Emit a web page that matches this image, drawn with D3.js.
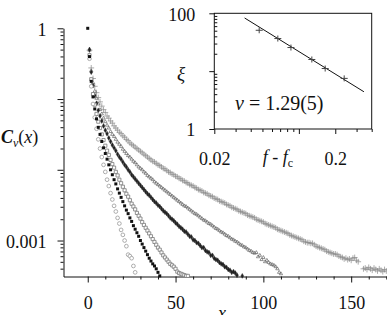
<!DOCTYPE html>
<html>
<head>
<meta charset="utf-8">
<script src="https://cdn.jsdelivr.net/npm/d3@7"></script>
<style>
body { margin: 0; background: #fff; }
</style>
</head>
<body>
<svg id="chart" width="387" height="315"></svg>
<script>
// values: decades below 1, i.e. C = 10^-value, index = x
var circlesDec = [null, 0.43, 0.82, 1.07, 1.26, 1.42, 1.57, 1.70, 1.82, 1.93,
	2.03, 2.14, 2.23, 2.33, 2.42, 2.51, 2.59, 2.68, 2.76, 2.85,
	2.92, 3.00, 3.08, 3.20, 3.22, 3.25, 3.36, 3.45];
var squaresDec = [0, 0.40, 0.75, 0.97, 1.14, 1.28, 1.40, 1.50, 1.60, 1.69,
	1.77, 1.85, 1.93, 2.00, 2.07, 2.14, 2.20, 2.27, 2.33, 2.39,
	2.45, 2.51, 2.57, 2.62, 2.68, 2.73, 2.79, 2.84, 2.89, 2.94,
	3.00, 3.05, 3.10, 3.15, 3.20, 3.25, 3.29, 3.33, 3.36, 3.40,
	3.45, 3.50];
var openSquaresDec = [null, 0.38, 0.72, 0.93, 1.08, 1.21, 1.32, 1.41, 1.50, 1.58,
	1.66, 1.73, 1.79, 1.86, 1.92, 1.97, 2.03, 2.08, 2.14, 2.19,
	2.24, 2.29, 2.34, 2.38, 2.43, 2.48, 2.52, 2.56, 2.61, 2.65,
	2.69, 2.74, 2.78, 2.82, 2.86, 2.90, 2.94, 2.98, 3.02, 3.06,
	3.10, 3.13, 3.17, 3.21, 3.24, 3.27, 3.30, 3.33, 3.35, 3.37,
	3.40, 3.44, 3.46, 3.47, 3.48, 3.49, 3.50, 3.50];
var dotsDec = [null, 0.30, 0.62, 0.81, 0.95, 1.06, 1.16, 1.24, 1.31, 1.38,
	1.44, 1.49, 1.55, 1.60, 1.65, 1.69, 1.73, 1.78, 1.82, 1.85,
	1.89, 1.93, 1.96, 2.00, 2.03, 2.07, 2.10, 2.13, 2.16, 2.19,
	2.22, 2.25, 2.28, 2.31, 2.34, 2.36, 2.39, 2.42, 2.45, 2.47,
	2.50, 2.52, 2.55, 2.58, 2.60, 2.62, 2.65, 2.68, 2.70, 2.72,
	2.75, 2.77, 2.80, 2.82, 2.84, 2.87, 2.88, 2.91, 2.94, 2.95,
	2.99, 3.00, 3.03, 3.04, 3.07, 3.10, 3.10, 3.14, 3.16, 3.17,
	3.21, 3.21, 3.25, 3.27, 3.28, 3.31, 3.33, 3.34, 3.37, 3.38,
	3.41, 3.42, 3.45, 3.44, 3.46, 3.49, null, null, 3.50];
var trianglesDec = [null, 0.31, 0.60, 0.77, 0.89, 0.99, 1.07, 1.15, 1.21, 1.27,
	1.32, 1.37, 1.41, 1.46, 1.50, 1.53, 1.57, 1.61, 1.64, 1.67,
	1.71, 1.74, 1.77, 1.80, 1.82, 1.85, 1.88, 1.90, 1.93, 1.96,
	1.98, 2.00, 2.03, 2.05, 2.08, 2.10, 2.12, 2.14, 2.17, 2.19,
	2.21, 2.23, 2.25, 2.27, 2.29, 2.31, 2.33, 2.35, 2.37, 2.39,
	2.41, 2.43, 2.45, 2.47, 2.49, 2.51, 2.52, 2.54, 2.56, 2.58,
	2.60, 2.62, 2.63, 2.65, 2.67, 2.69, 2.71, 2.72, 2.74, 2.76,
	2.77, 2.79, 2.81, 2.83, 2.84, 2.86, 2.88, 2.89, 2.91, 2.93,
	2.94, 2.96, 2.98, 2.99, 3.01, 3.02, 3.04, 3.06, 3.07, 3.09,
	3.10, 3.12, 3.14, 3.15, 3.17, 3.18, 3.17, 3.23, 3.21, 3.27,
	3.24, 3.30, 3.28, 3.31, 3.33, 3.34, 3.35, 3.37, 3.40, 3.45,
	3.47];
var plusDec = [null, 0.31, 0.56, 0.71, 0.82, 0.91, 0.98, 1.04, 1.10, 1.15,
	1.19, 1.24, 1.27, 1.31, 1.34, 1.38, 1.41, 1.44, 1.47, 1.49,
	1.52, 1.54, 1.57, 1.59, 1.62, 1.64, 1.66, 1.68, 1.70, 1.72,
	1.74, 1.76, 1.78, 1.80, 1.82, 1.84, 1.86, 1.88, 1.89, 1.91,
	1.93, 1.94, 1.96, 1.98, 1.99, 2.01, 2.03, 2.04, 2.06, 2.07,
	2.09, 2.10, 2.12, 2.13, 2.15, 2.16, 2.18, 2.19, 2.21, 2.22,
	2.23, 2.25, 2.26, 2.28, 2.29, 2.30, 2.32, 2.33, 2.34, 2.36,
	2.37, 2.38, 2.40, 2.41, 2.42, 2.44, 2.45, 2.46, 2.47, 2.49,
	2.50, 2.51, 2.53, 2.54, 2.55, 2.56, 2.58, 2.59, 2.60, 2.61,
	2.62, 2.64, 2.65, 2.66, 2.67, 2.68, 2.70, 2.71, 2.72, 2.73,
	2.74, 2.76, 2.77, 2.78, 2.79, 2.80, 2.81, 2.82, 2.84, 2.85,
	2.86, 2.87, 2.88, 2.89, 2.90, 2.92, 2.93, 2.94, 2.95, 2.96,
	2.97, 2.98, 2.99, 3.01, 3.02, 3.03, 3.03, 3.04, 3.04, 3.06,
	3.08, 3.09, 3.10, 3.11, 3.12, 3.13, 3.15, 3.16, 3.17, 3.18,
	3.19, 3.19, 3.20, 3.22, 3.23, 3.24, 3.26, 3.25, 3.27, 3.26,
	3.28, 3.25, 3.24, 3.28, 3.30, null, null, 3.40, 3.39, 3.41,
	3.38, 3.40, 3.42, 3.39, 3.41, 3.43, 3.40, 3.42, 3.44, 3.41,
	3.43];

var xTicksMajor = [0, 50, 100, 150];
var yTicksMajor = [1, 0.1, 0.01, 0.001];
var yTickLabels = {"1": "1", "0.001": "0.001"};

// inset: correlation length vs distance to threshold
var fDist = [0.047, 0.067, 0.086, 0.128, 0.165, 0.237];
var xiVals = [50.9, 36.6, 25.6, 15.9, 11.1, 7.5];
var fitF = [0.0356, 0.345];
var fitXi = [83, 4.4];
var insetXLabels = [0.02, 0.2];
var insetYLabels = [1, 100];

var FONT = "'Liberation Serif', 'DejaVu Serif', 'Times New Roman', serif";

var svg = d3.select("#chart");
svg.append("rect").attr("width", 387).attr("height", 315).attr("fill", "white");

var x = d3.scaleLinear().domain([-13.8, 170.4]).range([63.5, 387]);
var y = d3.scaleLog().domain([1, 3.1e-4]).range([28.3, 276.5]);

// axes
var minorX = d3.range(0, 171, 10).filter(v => v % 50 != 0);
svg.append("g").attr("transform", "translate(0,276.5)")
	.call(d3.axisBottom(x).tickValues(minorX).tickSize(3).tickSizeOuter(0).tickFormat(""))
	.call(g => g.select(".domain").remove());
var gx = svg.append("g").attr("transform", "translate(0,276.5)")
	.call(d3.axisBottom(x).tickValues(xTicksMajor).tickSize(6).tickSizeOuter(0).tickPadding(13.5));
gx.selectAll("text").attr("font-size", 18);

var minorY = [];
[1, 0.1, 0.01, 0.001, 0.0001].forEach(function(dec) {
	for (var m = 2; m <= 9; m++) {
		var v = dec * m / 10;
		if (v >= 3.1e-4 && v < 1) minorY.push(v);
	}
});
svg.append("g").attr("transform", "translate(63.5,0)")
	.call(d3.axisLeft(y).tickValues(minorY).tickSize(3).tickSizeOuter(0).tickFormat(""))
	.call(g => g.select(".domain").remove());
var gy = svg.append("g").attr("transform", "translate(63.5,0)")
	.call(d3.axisLeft(y).tickValues(yTicksMajor).tickSize(6).tickSizeOuter(0).tickPadding(11)
		.tickFormat(d => yTickLabels[String(d)] || ""));
gy.selectAll("text").attr("font-size", 18).attr("dy", "0.38em");
svg.selectAll(".domain").attr("stroke", "#111");
svg.selectAll(".tick line").attr("stroke", "#111");

// series
function sym(type, size) {
	return d3.symbol().type(type).size(size)();
}
var series = [
	{vals: plusDec, path: sym(d3.symbolPlus || d3.symbolCross, 13), fill: "none", stroke: "#888", sw: 0.7},
	{vals: trianglesDec, path: sym(d3.symbolTriangle2 || d3.symbolTriangle, 8), fill: "none", stroke: "#666", sw: 0.7},
	{vals: dotsDec, path: sym(d3.symbolDiamond, 7), fill: "#222", stroke: "#222", sw: 0.4},
	{vals: openSquaresDec, path: sym(d3.symbolSquare, 10), fill: "white", stroke: "#777", sw: 0.8},
	{vals: circlesDec, path: sym(d3.symbolCircle, 11), fill: "white", stroke: "#999", sw: 0.8},
	{vals: squaresDec, path: sym(d3.symbolSquare, 9), fill: "#111", stroke: "none", sw: 0}
];
series.forEach(function(s, k) {
	var pts = s.vals.map((d, i) => ({x: i, c: d == null ? null : Math.pow(10, -d)}))
		.filter(p => p.c != null);
	svg.append("g").attr("class", "series" + k)
		.selectAll("path").data(pts).enter().append("path")
		.attr("transform", p => "translate(" + x(p.x) + "," + y(p.c) + ")")
		.attr("d", s.path)
		.attr("fill", s.fill)
		.attr("stroke", s.stroke)
		.attr("stroke-width", s.sw);
});

// axis titles
var cLabel = svg.append("text").attr("x", 1).attr("y", 143).attr("font-size", 18);
cLabel.append("tspan").attr("font-style", "italic").attr("font-weight", "bold").text("C");
cLabel.append("tspan").attr("font-style", "italic").attr("font-size", 12).attr("dy", 4).text("v");
cLabel.append("tspan").attr("dy", -4).text("(");
cLabel.append("tspan").attr("font-style", "italic").text("x");
cLabel.append("tspan").text(")");
svg.append("text").attr("x", 222).attr("y", 319).attr("text-anchor", "middle")
	.attr("font-size", 18).attr("font-style", "italic").text("x");

// inset
var ix = d3.scaleLog().domain([0.02, 0.4]).range([214.3, 371.7]);
var iy = d3.scaleLog().domain([1, 100]).range([129, 13.3]);
var inset = svg.append("g");
inset.append("rect").attr("x", 214.3).attr("y", 13.3).attr("width", 157.4).attr("height", 115.7)
	.attr("fill", "white").attr("stroke", "#111").attr("stroke-width", 1);

var ixMinor = [0.03, 0.04, 0.05, 0.06, 0.07, 0.08, 0.09, 0.3, 0.4];
inset.append("g").attr("transform", "translate(0,129)")
	.call(d3.axisBottom(ix).tickValues(ixMinor).tickSize(3).tickSizeOuter(0).tickFormat(""))
	.call(g => g.select(".domain").remove());
var gix = inset.append("g").attr("transform", "translate(0,129)")
	.call(d3.axisBottom(ix).tickValues([0.02, 0.1, 0.2]).tickSize(5).tickSizeOuter(0).tickPadding(18)
		.tickFormat(d => insetXLabels.indexOf(d) >= 0 ? String(d) : ""));
gix.select(".domain").remove();
gix.selectAll("text").attr("font-size", 18);

var iyMinor = [];
[1, 10].forEach(function(dec) {
	for (var m = 2; m <= 9; m++) iyMinor.push(dec * m);
});
inset.append("g").attr("transform", "translate(214.3,0)")
	.call(d3.axisRight(iy).tickValues(iyMinor).tickSize(3).tickSizeOuter(0).tickFormat(""))
	.call(g => g.select(".domain").remove());
var giy = inset.append("g").attr("transform", "translate(214.3,0)")
	.call(d3.axisLeft(iy).tickValues([1, 10, 100]).tickSize(5).tickSizeOuter(0).tickPadding(14)
		.tickFormat(d => insetYLabels.indexOf(d) >= 0 ? String(d) : ""));
giy.select(".domain").remove();
giy.selectAll("text").attr("font-size", 18).attr("dy", "0.38em");
inset.selectAll(".tick line").attr("stroke", "#111");

var fitLine = d3.line().x(d => ix(d[0])).y(d => iy(d[1]));
inset.append("path").datum(d3.zip(fitF, fitXi)).attr("d", fitLine)
	.attr("fill", "none").attr("stroke", "#111").attr("stroke-width", 1);

var pts = d3.zip(fDist, xiVals);
var marks = inset.append("g").selectAll("g").data(pts).enter().append("g")
	.attr("transform", d => "translate(" + ix(d[0]) + "," + iy(d[1]) + ")");
marks.append("line").attr("x1", -3.5).attr("x2", 3.5).attr("stroke", "#444").attr("stroke-width", 1);
marks.append("line").attr("y1", -3).attr("y2", 3).attr("stroke", "#444").attr("stroke-width", 1);

inset.append("text").attr("x", 181).attr("y", 80).attr("text-anchor", "middle")
	.attr("font-size", 19).attr("font-style", "italic").text("ξ");
var fLabel = inset.append("text").attr("x", 278).attr("y", 163).attr("text-anchor", "middle")
	.attr("font-size", 18);
fLabel.append("tspan").attr("font-style", "italic").text("f");
fLabel.append("tspan").text(" - ");
fLabel.append("tspan").attr("font-style", "italic").text("f");
fLabel.append("tspan").attr("font-size", 12).attr("dy", 4).text("c");
var nuLabel = inset.append("text").attr("x", 235).attr("y", 110).attr("font-size", 20);
nuLabel.append("tspan").attr("font-style", "italic").text("ν");
nuLabel.append("tspan").text(" = 1.29(5)");

// one face for every text, set on the elements themselves
svg.selectAll("text").attr("font-family", FONT).attr("fill", "#111");
</script>
</body>
</html>
